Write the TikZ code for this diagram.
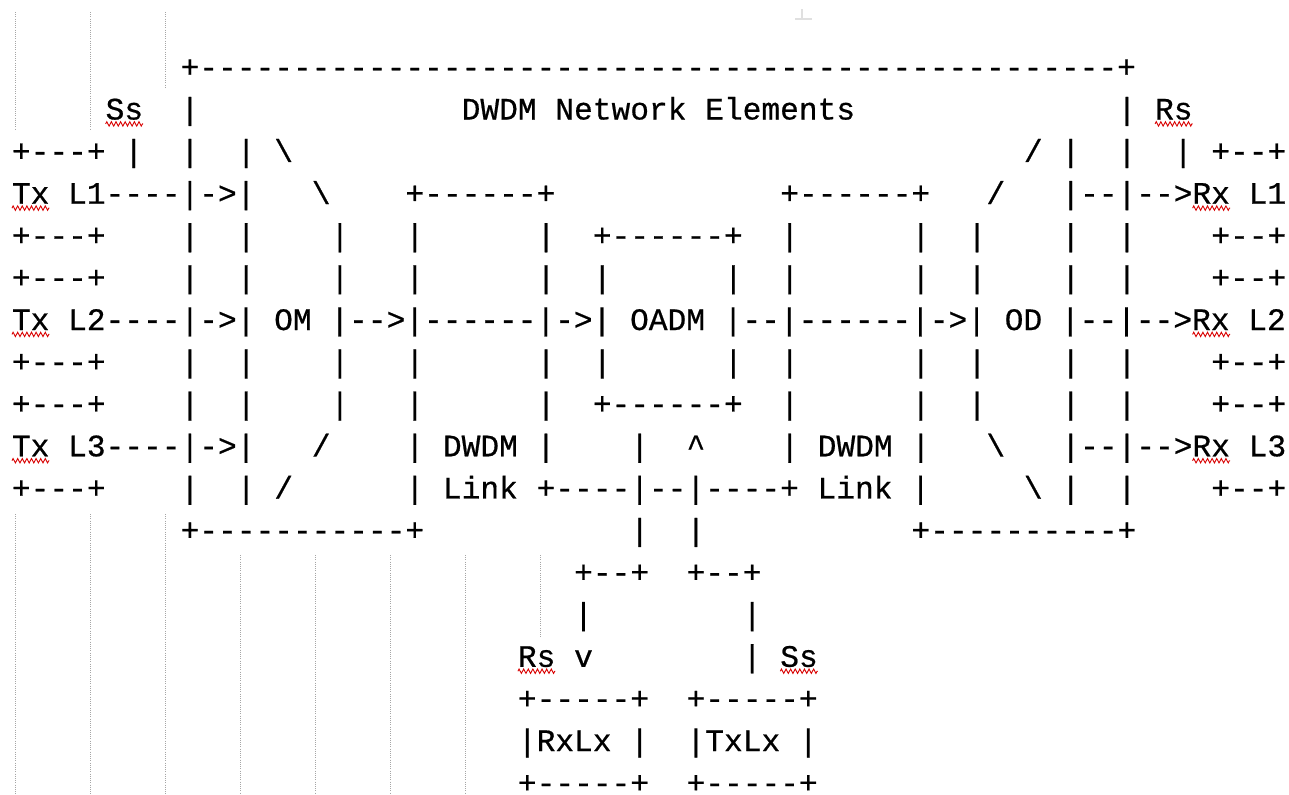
\documentclass[tikz,border=0pt]{standalone}
\usepackage{fontspec}
\setmonofont{Liberation Mono}[FakeBold=0.6]
\usetikzlibrary{decorations.pathmorphing}
\tikzset{
  mono/.style={inner sep=0pt, outer sep=0pt, anchor=base west, text=black, text depth=0pt,
    font=\ttfamily\fontsize{15.61pt}{21pt}\selectfont},
  squig/.style={draw=red!85!black, line width=0.45pt,
    decorate, decoration={zigzag, segment length=2.3pt, amplitude=1.1pt}},
  guide/.style={draw=black!35, line width=0.5pt, dash pattern=on 0.5pt off 0.6pt},
  faint/.style={draw=black!12, line width=0.6pt}
}
\newcommand{\rowy}[1]{(-38.7-21.05*(#1))}
\newcommand{\sqline}[2]{% row, col : underline two characters
  \draw[squig] ({5.97+9.37*#2}, {-40.9-21.05*#1}) -- ({5.97+9.37*(#2+2)}, {-40.9-21.05*#1});}
\begin{document}
\begin{tikzpicture}[x=1pt, y=1pt]
\useasboundingbox[fill=white] (0,0) rectangle (644.5,-397);
% editor column guides
\foreach \gx in {7.5,45} \draw[guide] (\gx,-6) -- (\gx,-65);
\draw[guide] (82.5,-6) -- (82.5,-44);
\foreach \gx in {7.5,45,82.5} \draw[guide] (\gx,-257) -- (\gx,-397);
\foreach \gx in {120,157.5,195,232.5} \draw[guide] (\gx,-277.5) -- (\gx,-397);
\draw[guide] (270,-277.5) -- (270,-318.5);
\draw[faint] (401,-4.5) -- (401,-9.5);
\draw[faint] (397.5,-9.5) -- (406,-9.5);
% the text, row/column/segment
\foreach \r/\c/\t [count=\i] in {
 0/9/{+-------------------------------------------------+},
 1/5/{Ss}, 1/9/{|}, 1/24/{DWDM Network Elements}, 1/59/{|}, 1/61/{Rs},
 2/0/{+---+}, 2/6/{|}, 2/9/{|}, 2/12/{|}, 2/14/{\textbackslash}, 2/54/{/}, 2/56/{|}, 2/59/{|}, 2/62/{|}, 2/64/{+--+},
 3/0/{Tx L1----|->|}, 3/16/{\textbackslash}, 3/21/{+------+}, 3/41/{+------+}, 3/52/{/}, 3/56/{|--|-->Rx L1},
 4/0/{+---+}, 4/9/{|}, 4/12/{|}, 4/17/{|}, 4/21/{|}, 4/28/{|}, 4/31/{+------+}, 4/41/{|}, 4/48/{|}, 4/51/{|}, 4/56/{|}, 4/59/{|}, 4/64/{+--+},
 5/0/{+---+}, 5/9/{|}, 5/12/{|}, 5/17/{|}, 5/21/{|}, 5/28/{|}, 5/31/{|}, 5/38/{|}, 5/41/{|}, 5/48/{|}, 5/51/{|}, 5/56/{|}, 5/59/{|}, 5/64/{+--+},
 6/0/{Tx L2----|->| OM |-->|------|->| OADM |--|------|->| OD |--|-->Rx L2},
 7/0/{+---+}, 7/9/{|}, 7/12/{|}, 7/17/{|}, 7/21/{|}, 7/28/{|}, 7/31/{|}, 7/38/{|}, 7/41/{|}, 7/48/{|}, 7/51/{|}, 7/56/{|}, 7/59/{|}, 7/64/{+--+},
 8/0/{+---+}, 8/9/{|}, 8/12/{|}, 8/17/{|}, 8/21/{|}, 8/28/{|}, 8/31/{+------+}, 8/41/{|}, 8/48/{|}, 8/51/{|}, 8/56/{|}, 8/59/{|}, 8/64/{+--+},
 9/0/{Tx L3----|->|}, 9/16/{/}, 9/21/{| DWDM |}, 9/33/{|}, 9/36/{\textasciicircum}, 9/41/{| DWDM |}, 9/52/{\textbackslash}, 9/56/{|--|-->Rx L3},
 10/0/{+---+}, 10/9/{|}, 10/12/{|}, 10/14/{/}, 10/21/{| Link +----|--|----+ Link |}, 10/54/{\textbackslash}, 10/56/{|}, 10/59/{|}, 10/64/{+--+},
 11/9/{+-----------+}, 11/33/{|}, 11/36/{|}, 11/48/{+----------+},
 12/30/{+--+}, 12/36/{+--+},
 13/30/{|}, 13/39/{|},
 14/27/{Rs}, 14/30/{v}, 14/39/{|}, 14/41/{Ss},
 15/27/{+-----+}, 15/36/{+-----+},
 16/27/{|RxLx |}, 16/36/{|TxLx |},
 17/27/{+-----+}, 17/36/{+-----+}
}{
  \node[mono] (s\i) at ({5.97+9.37*\c}, {-38.7-21.05*\r}) {\t};
}
% spell-check marks
\sqline{1}{5}
\sqline{1}{61}
\sqline{3}{0}
\sqline{6}{0}
\sqline{9}{0}
\sqline{3}{63}
\sqline{6}{63}
\sqline{9}{63}
\sqline{14}{27}
\sqline{14}{41}
\end{tikzpicture}
\end{document}
